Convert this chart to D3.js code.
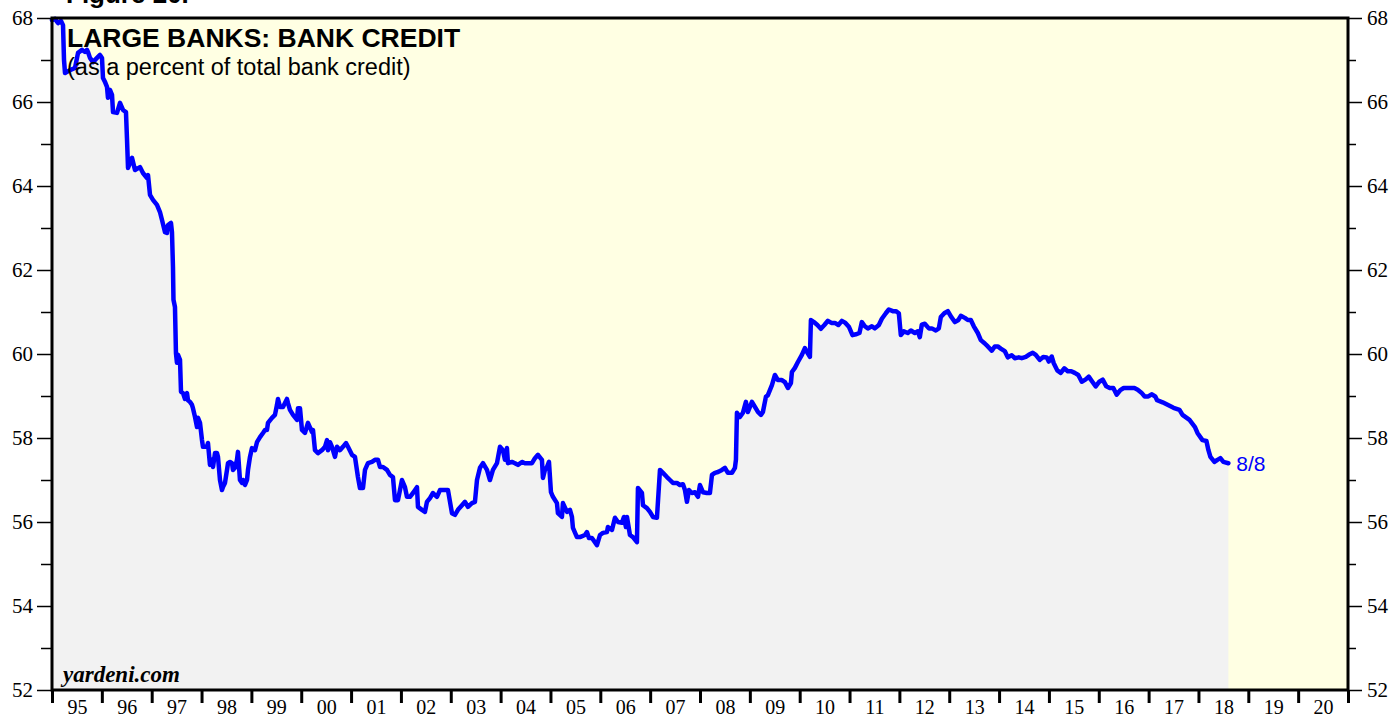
<!DOCTYPE html>
<html>
<head>
<meta charset="utf-8">
<script src="https://cdn.jsdelivr.net/npm/d3@7"></script>
<style>
  body { margin: 0; background: #fff; }
  svg { display: block; }
</style>
</head>
<body>
<div id="chart"></div>
<script>
// weekly series, large banks' share of total bank credit (%)
const bankCreditShare = [
  [1995.000,67.95],[1995.060,67.98],[1995.120,67.88],[1995.181,67.93],[1995.221,67.83],[1995.241,67.00],[1995.261,66.69],
  [1995.361,66.76],[1995.461,66.81],[1995.522,67.17],[1995.602,67.24],[1995.662,67.19],[1995.702,67.24],[1995.722,67.19],
  [1995.762,67.05],[1995.822,66.95],[1995.903,67.05],[1995.963,67.12],[1996.003,67.05],[1996.023,66.57],[1996.063,66.48],
  [1996.103,66.36],[1996.123,66.10],[1996.163,66.29],[1996.204,66.17],[1996.224,65.76],[1996.304,65.74],[1996.364,65.98],
  [1996.424,65.81],[1996.484,65.76],[1996.504,65.14],[1996.525,64.43],[1996.605,64.67],[1996.665,64.38],[1996.765,64.45],
  [1996.825,64.31],[1996.906,64.19],[1996.926,64.26],[1996.966,63.79],[1997.026,63.67],[1997.106,63.55],[1997.166,63.38],
  [1997.207,63.19],[1997.267,62.90],[1997.307,62.88],[1997.327,63.07],[1997.387,63.12],[1997.407,62.90],[1997.427,62.07],
  [1997.437,61.29],[1997.467,61.12],[1997.487,60.02],[1997.507,59.79],[1997.528,59.98],[1997.568,59.86],[1997.588,59.10],
  [1997.628,59.07],[1997.668,58.93],[1997.708,59.07],[1997.728,58.90],[1997.768,58.86],[1997.808,58.79],[1997.828,58.71],
  [1997.869,58.50],[1997.909,58.26],[1997.929,58.48],[1997.969,58.36],[1998.009,57.95],[1998.029,57.79],[1998.109,57.79],
  [1998.129,57.88],[1998.169,57.36],[1998.210,57.48],[1998.230,57.31],[1998.270,57.64],[1998.310,57.64],[1998.330,57.55],
  [1998.370,57.00],[1998.410,56.76],[1998.430,56.83],[1998.470,56.93],[1998.511,57.24],[1998.531,57.40],[1998.571,57.43],
  [1998.611,57.40],[1998.631,57.24],[1998.671,57.29],[1998.711,57.48],[1998.731,57.67],[1998.771,57.00],[1998.812,56.93],
  [1998.832,57.00],[1998.872,56.88],[1998.912,57.00],[1998.932,57.24],[1998.972,57.55],[1999.012,57.76],[1999.072,57.71],
  [1999.112,57.90],[1999.173,58.02],[1999.233,58.12],[1999.273,58.19],[1999.313,58.19],[1999.333,58.36],[1999.413,58.48],
  [1999.473,58.55],[1999.514,58.79],[1999.534,58.93],[1999.574,58.74],[1999.634,58.74],[1999.714,58.93],[1999.734,58.83],
  [1999.774,58.67],[1999.835,58.55],[1999.915,58.43],[1999.935,58.71],[1999.975,58.71],[2000.015,58.19],[2000.075,58.12],
  [2000.135,58.36],[2000.216,58.14],[2000.236,58.19],[2000.276,57.71],[2000.336,57.64],[2000.416,57.71],[2000.476,57.79],
  [2000.517,57.95],[2000.537,57.71],[2000.577,57.90],[2000.617,57.79],[2000.677,57.55],[2000.717,57.79],[2000.777,57.71],
  [2000.837,57.79],[2000.898,57.88],[2000.938,57.79],[2001.018,57.60],[2001.078,57.55],[2001.138,57.07],[2001.178,56.81],
  [2001.239,56.81],[2001.279,57.24],[2001.339,57.40],[2001.419,57.43],[2001.479,57.48],[2001.540,57.48],[2001.580,57.31],
  [2001.640,57.31],[2001.720,57.24],[2001.780,57.12],[2001.840,57.07],[2001.881,56.52],[2001.941,56.52],[2002.021,57.00],
  [2002.081,56.83],[2002.121,56.60],[2002.182,56.60],[2002.242,56.69],[2002.322,56.83],[2002.342,56.36],[2002.422,56.29],
  [2002.482,56.24],[2002.522,56.48],[2002.583,56.57],[2002.643,56.69],[2002.723,56.60],[2002.783,56.76],[2002.843,56.76],
  [2002.944,56.76],[2003.024,56.21],[2003.084,56.17],[2003.144,56.29],[2003.225,56.40],[2003.285,56.48],[2003.345,56.36],
  [2003.425,56.45],[2003.485,56.48],[2003.526,57.00],[2003.586,57.29],[2003.646,57.40],[2003.726,57.24],[2003.786,57.00],
  [2003.846,57.24],[2003.927,57.40],[2003.987,57.79],[2004.047,57.71],[2004.087,57.48],[2004.127,57.76],[2004.147,57.40],
  [2004.228,57.43],[2004.288,57.40],[2004.348,57.36],[2004.428,57.43],[2004.488,57.40],[2004.549,57.40],[2004.629,57.40],
  [2004.689,57.52],[2004.749,57.60],[2004.829,57.48],[2004.849,57.05],[2004.889,57.24],[2004.930,57.31],[2004.970,57.43],
  [2005.010,56.71],[2005.050,56.60],[2005.130,56.45],[2005.150,56.21],[2005.230,56.12],[2005.250,56.45],[2005.331,56.24],
  [2005.391,56.29],[2005.431,56.12],[2005.451,55.86],[2005.531,55.64],[2005.592,55.64],[2005.692,55.69],[2005.732,55.76],
  [2005.772,55.62],[2005.832,55.62],[2005.933,55.45],[2005.993,55.69],[2006.053,55.74],[2006.133,55.76],[2006.153,55.88],
  [2006.234,55.81],[2006.294,56.10],[2006.354,56.00],[2006.434,55.98],[2006.474,56.12],[2006.514,55.88],[2006.535,56.12],
  [2006.595,55.69],[2006.655,55.64],[2006.735,55.52],[2006.755,56.81],[2006.835,56.69],[2006.856,56.40],[2006.936,56.33],
  [2006.996,56.24],[2007.056,56.12],[2007.136,56.10],[2007.197,57.24],[2007.257,57.17],[2007.337,57.07],[2007.397,57.00],
  [2007.457,56.93],[2007.537,56.93],[2007.598,56.88],[2007.658,56.90],[2007.698,56.76],[2007.738,56.48],[2007.778,56.76],
  [2007.838,56.69],[2007.899,56.71],[2007.959,56.60],[2007.999,56.88],[2008.059,56.71],[2008.139,56.69],[2008.199,56.69],
  [2008.240,57.12],[2008.300,57.17],[2008.360,57.19],[2008.440,57.24],[2008.500,57.29],[2008.560,57.17],[2008.641,57.17],
  [2008.701,57.29],[2008.721,57.48],[2008.741,58.60],[2008.801,58.50],[2008.861,58.60],[2008.921,58.86],[2008.961,58.62],
  [2009.042,58.86],[2009.102,58.74],[2009.162,58.62],[2009.222,58.55],[2009.262,58.62],[2009.322,58.98],[2009.362,59.02],
  [2009.443,59.26],[2009.503,59.50],[2009.563,59.38],[2009.643,59.38],[2009.703,59.33],[2009.764,59.19],[2009.824,59.31],
  [2009.844,59.57],[2009.904,59.67],[2009.964,59.81],[2010.044,59.98],[2010.104,60.14],[2010.144,60.05],[2010.205,59.93],
  [2010.225,60.81],[2010.285,60.76],[2010.355,60.69],[2010.425,60.60],[2010.495,60.69],[2010.566,60.79],[2010.636,60.74],
  [2010.706,60.74],[2010.776,60.69],[2010.846,60.79],[2010.918,60.74],[2010.986,60.65],[2011.059,60.45],[2011.127,60.47],
  [2011.199,60.50],[2011.247,60.76],[2011.307,60.66],[2011.367,60.61],[2011.448,60.66],[2011.508,60.61],[2011.588,60.69],
  [2011.648,60.84],[2011.728,60.97],[2011.788,61.06],[2011.869,61.02],[2011.929,61.02],[2011.989,60.97],[2012.029,60.45],
  [2012.089,60.54],[2012.169,60.50],[2012.230,60.56],[2012.310,60.50],[2012.370,60.54],[2012.410,60.40],[2012.450,60.70],
  [2012.510,60.72],[2012.591,60.61],[2012.651,60.61],[2012.731,60.56],[2012.791,60.61],[2012.831,60.88],[2012.901,60.97],
  [2012.972,61.02],[2013.042,60.88],[2013.112,60.76],[2013.184,60.81],[2013.233,60.91],[2013.313,60.86],[2013.373,60.81],
  [2013.433,60.81],[2013.493,60.66],[2013.573,60.50],[2013.634,60.33],[2013.714,60.25],[2013.774,60.18],[2013.854,60.08],
  [2013.914,60.18],[2013.974,60.18],[2014.034,60.13],[2014.114,60.07],[2014.175,59.92],[2014.255,59.97],[2014.315,59.90],
  [2014.395,59.92],[2014.455,59.90],[2014.536,59.93],[2014.596,59.98],[2014.676,60.03],[2014.736,59.98],[2014.816,59.86],
  [2014.886,59.93],[2014.957,59.92],[2014.997,59.82],[2015.057,59.94],[2015.097,59.78],[2015.167,59.61],[2015.237,59.55],
  [2015.308,59.66],[2015.378,59.59],[2015.448,59.59],[2015.518,59.55],[2015.589,59.50],[2015.659,59.34],[2015.731,59.39],
  [2015.799,59.46],[2015.871,59.34],[2015.939,59.23],[2016.011,59.34],[2016.079,59.39],[2016.151,59.23],[2016.219,59.19],
  [2016.292,59.19],[2016.360,59.03],[2016.432,59.14],[2016.500,59.19],[2016.574,59.19],[2016.641,59.19],[2016.715,59.19],
  [2016.781,59.15],[2016.855,59.08],[2016.921,58.99],[2016.994,58.99],[2017.060,59.04],[2017.134,58.99],[2017.170,58.90],
  [2017.280,58.85],[2017.380,58.79],[2017.500,58.72],[2017.620,58.67],[2017.680,58.55],[2017.820,58.43],[2017.930,58.26],
  [2017.980,58.12],[2018.080,57.95],[2018.160,57.93],[2018.200,57.71],[2018.240,57.55],[2018.320,57.43],[2018.380,57.48],
  [2018.440,57.52],[2018.500,57.43],[2018.600,57.40]
];

const yearStarts = d3.range(1995, 2022);            // tick marks on the year boundaries
const yearLabels = ["95","96","97","98","99","00","01","02","03","04","05","06","07","08",
                    "09","10","11","12","13","14","15","16","17","18","19","20"];
const yMajorTicks = [52, 54, 56, 58, 60, 62, 64, 66, 68];
const yMinorTicks = [53, 55, 57, 59, 61, 63, 65, 67];
const lastDateLabel = "8/8";

const width = 1394;
const height = 719;
const margin = { top: 18, right: 46, bottom: 29, left: 52 };

const svg = d3
  .select("#chart")
  .append("svg")
  .attr("width", width)
  .attr("height", height)
  .attr("viewBox", [0, 0, width, height]);

const xScale = d3
  .scaleLinear()
  .domain([1995, 2021])
  .range([margin.left, width - margin.right]);

const yScale = d3
  .scaleLinear()
  .domain([52, 68])
  .range([height - margin.bottom, margin.top]);

const serif = "'Liberation Serif', 'Times New Roman', serif";
const sans = "'Liberation Sans', Arial, Helvetica, sans-serif";

// plot background
svg
  .append("rect")
  .attr("x", margin.left)
  .attr("y", margin.top)
  .attr("width", width - margin.left - margin.right)
  .attr("height", height - margin.top - margin.bottom)
  .attr("fill", "#FFFFE3");

// grey area under the line
const area = d3
  .area()
  .x((d) => xScale(d[0]))
  .y0(yScale(52))
  .y1((d) => yScale(d[1]));

svg
  .append("path")
  .datum(bankCreditShare)
  .attr("d", area)
  .attr("fill", "#F2F2F2");

const line = d3
  .line()
  .x((d) => xScale(d[0]))
  .y((d) => yScale(d[1]));

svg
  .append("path")
  .datum(bankCreditShare)
  .attr("d", line)
  .attr("fill", "none")
  .attr("stroke", "#0000FF")
  .attr("stroke-width", 4.5)
  .attr("stroke-linejoin", "round")
  .attr("stroke-linecap", "round");

// axis styling shared by all the axes
const styleAxis = (g, size) => {
  g.select(".domain").remove();
  g.selectAll(".tick line").attr("stroke", "#000").attr("stroke-width", 1.5);
  g.selectAll(".tick text")
    .attr("fill", "#000")
    .style("font-family", serif)
    .style("font-size", size + "px");
};

// left axis
svg
  .append("g")
  .attr("transform", `translate(${margin.left}, 0)`)
  .call(d3.axisLeft(yScale).tickValues(yMajorTicks).tickSize(15).tickPadding(4))
  .call((g) => styleAxis(g, 21));

svg
  .append("g")
  .attr("transform", `translate(${margin.left}, 0)`)
  .call(d3.axisLeft(yScale).tickValues(yMinorTicks).tickSize(11).tickFormat(""))
  .call((g) => styleAxis(g, 21));

// right axis
svg
  .append("g")
  .attr("transform", `translate(${width - margin.right}, 0)`)
  .call(d3.axisRight(yScale).tickValues(yMajorTicks).tickSize(14).tickPadding(5))
  .call((g) => styleAxis(g, 21));

svg
  .append("g")
  .attr("transform", `translate(${width - margin.right}, 0)`)
  .call(d3.axisRight(yScale).tickValues(yMinorTicks).tickSize(8).tickFormat(""))
  .call((g) => styleAxis(g, 21));

// bottom axis: boundary ticks, labels centred in each year
svg
  .append("g")
  .attr("transform", `translate(0, ${height - margin.bottom})`)
  .call(d3.axisBottom(xScale).tickValues(yearStarts).tickSize(13).tickFormat(""))
  .call((g) => {
    g.select(".domain").remove();
    g.selectAll(".tick line").attr("stroke", "#000").attr("stroke-width", 3);
  });

svg
  .append("g")
  .attr("transform", `translate(0, ${height - margin.bottom})`)
  .call(
    d3
      .axisBottom(xScale)
      .tickValues(yearLabels.map((d, i) => 1995.5 + i))
      .tickSize(0)
      .tickPadding(10)
      .tickFormat((d, i) => yearLabels[i])
  )
  .call((g) => styleAxis(g, 20));

// frame
svg
  .append("rect")
  .attr("x", margin.left)
  .attr("y", margin.top)
  .attr("width", width - margin.left - margin.right)
  .attr("height", height - margin.top - margin.bottom)
  .attr("fill", "none")
  .attr("stroke", "#000")
  .attr("stroke-width", 3);

// titles
svg
  .append("text")
  .attr("x", 66)
  .attr("y", 3)
  .text("Figure 20.")
  .style("font-family", sans)
  .style("font-weight", "bold")
  .style("font-size", "26px");

svg
  .append("text")
  .attr("x", 67)
  .attr("y", 47)
  .text("LARGE BANKS: BANK CREDIT")
  .style("font-family", sans)
  .style("font-weight", "bold")
  .style("font-size", "26.5px");

svg
  .append("text")
  .attr("x", 67)
  .attr("y", 75)
  .text("(as a percent of total bank credit)")
  .style("font-family", sans)
  .style("font-size", "23.5px");

svg
  .append("text")
  .attr("x", 63)
  .attr("y", 682)
  .text("yardeni.com")
  .style("font-family", serif)
  .style("font-weight", "bold")
  .style("font-style", "italic")
  .style("font-size", "23px");

// last date marker
const last = bankCreditShare[bankCreditShare.length - 1];
svg
  .append("text")
  .attr("x", xScale(last[0]) + 8)
  .attr("y", yScale(last[1]) + 8)
  .text(lastDateLabel)
  .attr("fill", "#0000FF")
  .style("font-family", sans)
  .style("font-size", "21px");
</script>
</body>
</html>
